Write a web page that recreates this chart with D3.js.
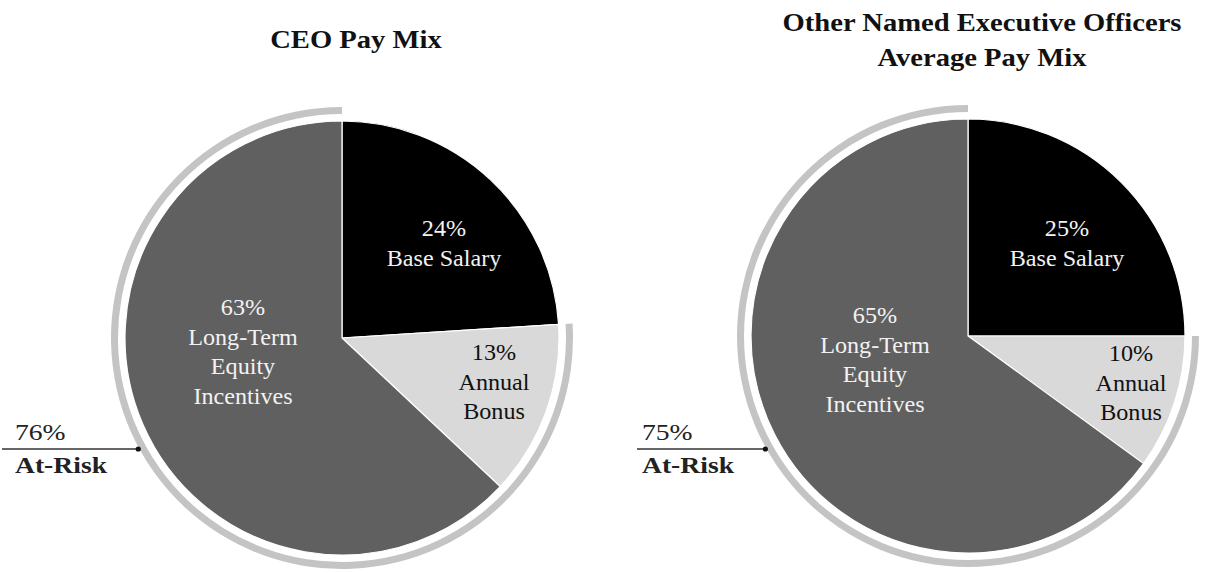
<!DOCTYPE html>
<html>
<head>
<meta charset="utf-8">
<script src="https://cdn.jsdelivr.net/npm/d3@7"></script>
<style>
  body { margin: 0; background: #fff; }
  svg { display: block; }
  text { font-family: "Liberation Serif", "Times New Roman", serif; }
</style>
</head>
<body>
<div class="chart"></div>
<script>
const width = 1205;
const height = 573;

// data
const categories = ["Base Salary", "Annual Bonus", "Long-Term Equity Incentives"];
const ceoValues = [24, 13, 63];
const neoValues = [25, 10, 65];
const atRisk = [76, 75];
const titles = [["CEO Pay Mix"], ["Other Named Executive Officers", "Average Pay Mix"]];
const sliceLines = [["Base Salary"], ["Annual", "Bonus"], ["Long-Term", "Equity", "Incentives"]];

const colors = ["#000000", "#d9d9d9", "#606060"];
const textColors = ["#f2f2f2", "#111111", "#f2f2f2"];

// layout
const radius = 217;
const ringInner = 224;
const ringOuter = 231;
const pies = [
  { cx: 342, cy: 338, values: ceoValues, risk: atRisk[0], title: titles[0], titleY: [48],
    labels: [[102, -102], [152, 22], [-99, -23]], noteX: 15, lineX: 2 },
  { cx: 968, cy: 336, values: neoValues, risk: atRisk[1], title: titles[1], titleY: [31, 66],
    labels: [[99, -100], [163, 25], [-93, -13]], noteX: 642, lineX: 637 }
];
const lineGap = 29.5;

const svg = d3.select(".chart")
  .append("svg")
  .attr("width", width)
  .attr("height", height);

const pie = d3.pie().sort(null).value(d => d);
const arc = d3.arc().innerRadius(0).outerRadius(radius);
const ringArc = d3.arc().innerRadius(ringInner).outerRadius(ringOuter);

pies.forEach(drawPie);

function drawPie(p) {
  const g = svg.append("g").attr("transform", `translate(${p.cx},${p.cy})`);
  const slices = pie(p.values);

  // at-risk ring: from end of base salary round to the top
  g.append("path")
    .attr("d", ringArc({ startAngle: slices[0].endAngle, endAngle: 2 * Math.PI }))
    .attr("fill", "#c4c4c4");

  g.selectAll("path.slice")
    .data(slices)
    .enter()
    .append("path")
    .attr("class", "slice")
    .attr("d", arc)
    .attr("fill", (d, i) => colors[i])
    .attr("stroke", "#fff")
    .attr("stroke-width", 1.2);

  slices.forEach((s, i) => {
    const lines = [s.data + "%"].concat(sliceLines[i]);
    const [lx, ly] = p.labels[i];
    lines.forEach((t, j) => {
      stretchText(g, t, lx, ly + j * lineGap, 1.05)
        .attr("text-anchor", "middle")
        .attr("font-size", 23)
        .attr("fill", textColors[i]);
    });
  });

  // title
  p.title.forEach((t, j) => {
    stretchText(svg, t, p.cx + 14, p.titleY[j], 1.1)
      .attr("text-anchor", "middle")
      .attr("font-size", 26)
      .attr("font-weight", "bold")
      .attr("fill", "#111");
  });

  // at-risk callout
  const lineY = 449;
  const dy = lineY - p.cy;
  const dotX = p.cx - Math.sqrt((ringOuter + 1) ** 2 - dy * dy);
  svg.append("line")
    .attr("x1", p.lineX)
    .attr("x2", dotX)
    .attr("y1", lineY)
    .attr("y2", lineY)
    .attr("stroke", "#333")
    .attr("stroke-width", 1.3);
  svg.append("circle")
    .attr("cx", dotX)
    .attr("cy", lineY)
    .attr("r", 2.6)
    .attr("fill", "#111");

  stretchText(svg, p.risk + "%", p.noteX, 440, 1.15)
    .attr("font-size", 24)
    .attr("fill", "#222");
  stretchText(svg, "At-Risk", p.noteX, 473, 1.15)
    .attr("font-size", 24)
    .attr("font-weight", "bold")
    .attr("fill", "#222");
}

function stretchText(parent, str, x, y, sx) {
  return parent.append("text")
    .attr("transform", `translate(${x},${y}) scale(${sx},1)`)
    .text(str);
}
</script>
</body>
</html>
